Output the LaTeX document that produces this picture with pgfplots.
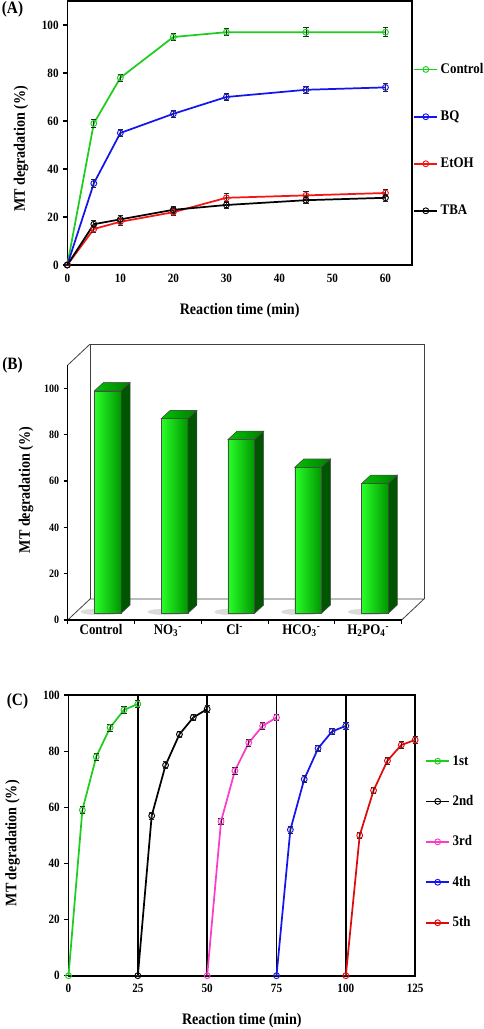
\documentclass[border=0pt]{standalone}
\usepackage{pgfplots}
\pgfplotsset{compat=1.18}
\usepackage{pgfplotstable}
\usepackage{fontspec}
\setmainfont{Liberation Serif}[FakeStretch=0.88]

\definecolor{cgreen}{RGB}{30,205,30}
\definecolor{cblue}{RGB}{20,20,240}
\definecolor{cred}{RGB}{245,20,20}
\definecolor{cmag}{RGB}{250,60,200}
\definecolor{cred2}{RGB}{225,10,10}
\definecolor{barlight}{RGB}{40,255,40}
\definecolor{barmid}{RGB}{0,190,0}
\definecolor{bardark}{RGB}{0,150,0}
\definecolor{bartopl}{RGB}{0,195,0}
\definecolor{bartopd}{RGB}{0,125,0}
\definecolor{barside}{RGB}{0,85,0}

% ---------- Panel A data ----------
\pgfplotstableread{
x y e
0 0 0
5 59 1.5
10 78 1.5
20 95 1.5
30 97 1.5
45 97 1.8
60 97 1.8
}\tCtrl
\pgfplotstableread{
x y e
0 0 0
5 34 1.5
10 55 1.5
20 63 1.5
30 70 1.5
45 73 1.5
60 74 1.8
}\tBQ
\pgfplotstableread{
x y e
0 0 0
5 15 1.5
10 18 1.5
20 22 1.5
30 28 1.8
45 29 1.8
60 30 1.5
}\tEtOH
\pgfplotstableread{
x y e
0 0 0
5 17 1.5
10 19 1.5
20 23 1.5
30 25 1.5
45 27 1.5
60 28 1.5
}\tTBA
% ---------- Panel B data ----------
\pgfplotstableread{
x y
0 96
1 84
2 75
3 63
4 56
}\tBars
% ---------- Panel C data ----------
\pgfplotstableread{
x y e
0 0 0
5 59 1.2
10 78 1.2
15 88.4 1.2
20 94.7 1.2
25 96.8 1.2
}\tCa
\pgfplotstableread{
x y e
25 0 0
30 57 1.2
35 75 1.2
40 86 1.2
45 92 1.2
50 95 1.2
}\tCb
\pgfplotstableread{
x y e
50 0 0
55 55 1.2
60 73 1.2
65 83 1.2
70 89 1.2
75 92 1.2
}\tCc
\pgfplotstableread{
x y e
75 0 0
80 52 1.2
85 70 1.2
90 81 1.2
95 87 1.2
100 89 1.2
}\tCd
\pgfplotstableread{
x y e
100 0 0
105 50 1.2
110 66 1.2
115 76.6 1.2
120 82.2 1.2
125 84 1.2
}\tCe

\pgfplotsset{
  common/.style={scale only axis, clip=false,
    /pgf/number format/assume math mode=true,
    tick label style={font=\bfseries\fontsize{9.5}{10}\selectfont},
    label style={font=\bfseries\fontsize{12}{13}\selectfont},
    tickpos=left, tick align=outside, major tick length=3pt,
    tick style={black, line width=0.8pt},
    legend cell align=left},
  ser/.style={color=#1, line width=1.3pt, mark=o, mark size=2.2pt,
    mark options={line width=0.7pt, solid},
    error bars/y dir=both, error bars/y explicit,
    error bars/error bar style={line width=0.6pt, black!85},
    error bars/error mark options={rotate=90, mark size=2pt, line width=0.6pt, black!85}},
}

\begin{document}
\begin{tikzpicture}
\useasboundingbox (0,0) rectangle (363pt,771.75pt);

% ================= Panel A =================
\begin{axis}[common, at={(50.475pt,573pt)}, anchor=south west,
  width=258.5pt, height=198pt,
  xmin=0, xmax=65, ymin=0, ymax=110,
  xtick={0,10,...,60}, ytick={0,20,...,100},
  every major x tick/.append style={draw=none},
  axis line style={line width=1.1pt},
  xlabel={Reaction time (min)}, ylabel={MT degradation (\%)},
  xlabel style={at={(axis description cs:0.5,-0.173)}, anchor=center},
  ylabel style={at={(axis description cs:-0.134,0.44)}, anchor=center},
  legend style={at={(1.0,0.785)}, anchor=north west, draw=none, fill=none,
    font=\bfseries\fontsize{11}{12}\selectfont, row sep=22.5pt, inner xsep=1pt},
]
\addplot[ser=cgreen] table[x=x,y=y,y error=e]{\tCtrl};
\addplot[ser=cblue] table[x=x,y=y,y error=e]{\tBQ};
\addplot[ser=cred] table[x=x,y=y,y error=e]{\tEtOH};
\addplot[ser=black] table[x=x,y=y,y error=e]{\tTBA};
\legend{Control,BQ,EtOH,TBA}
\end{axis}

% ================= Panel B (frame) =================
\begin{axis}[common, at={(50.775pt,306.75pt)}, anchor=south west,
  width=267.2pt, height=206.9pt,
  xmin=-0.5, xmax=4.834, ymin=0, ymax=119.06,
  axis line style={draw=none},
  ytick={0,20,...,100},
  yticklabel style={font=\bfseries\fontsize{8.5}{9}\selectfont},
  xtick={-0.5,0.5,...,4.5}, xticklabels={},
  extra x ticks={0,1,2,3,4},
  extra x tick labels={Control, NO\textsubscript{3}\textsuperscript{-}, Cl\textsuperscript{-}, HCO\textsubscript{3}\textsuperscript{-}, H\textsubscript{2}PO\textsubscript{4}\textsuperscript{-}},
  extra x tick style={major tick length=0pt, tick label style={font=\bfseries\fontsize{11}{12}\selectfont}},
  ylabel={MT degradation (\%)},
  ylabel style={at={(axis description cs:-0.117,0.471)}, anchor=center},
]
\draw[black!75, line width=0.6pt] (axis cs:-0.5,0) -- (axis cs:-0.166,9.06) -- (axis cs:4.834,9.06) -- (axis cs:4.5,0);
\draw[black!75, line width=0.6pt] (axis cs:-0.166,9.06) -- (axis cs:-0.166,119.06) -- (axis cs:4.834,119.06) -- (axis cs:4.834,9.06);
\draw[black!75, line width=0.6pt] (axis cs:-0.5,110) -- (axis cs:-0.166,119.06);
\draw[black, line width=1pt] (axis cs:-0.5,110) -- (axis cs:-0.5,0) -- (axis cs:4.5,0);
\end{axis}

% ================= Panel B (bars) =================
\begin{axis}[at={(50.775pt,306.75pt)}, anchor=south west, scale only axis,
  width=267.2pt, height=206.9pt,
  xmin=-0.6, xmax=4.734, ymin=-2.9, ymax=116.16,
  hide axis, clip=false]
% soft shadows under the bars
\addplot[only marks, mark=*, mark size=0pt,
  scatter, scatter/@pre marker code/.code={%
    \fill[black!14] (axis direction cs:-0.1,0.6) ellipse [x radius=15pt, y radius=2.2pt];},
  scatter/@post marker code/.code={}]
  table[x=x,y expr=0]{\tBars};
\addplot[ybar, bar width=20pt, draw=black!70, line width=0.4pt,
  fill=barmid] table[x=x,y=y]{\tBars};
\addplot[scatter, only marks, mark=*, mark size=0pt,
  visualization depends on={rawy \as \barv},
  scatter/@pre marker code/.code={%
    \pgfmathsetmacro\vn{-\barv}%
    \pgfmathsetmacro\vb{3.58-\barv}%
    \filldraw[draw=black!70, line width=0.4pt, left color=barlight, right color=bardark]
      (axis direction cs:-0.2,0) -- (axis direction cs:0.2,0) -- (axis direction cs:0.2,\vn) -- (axis direction cs:-0.2,\vn) -- cycle;
    \filldraw[draw=black!70, line width=0.4pt, left color=bartopl, right color=bartopd]
      (axis direction cs:-0.2,0) -- (axis direction cs:0.2,0) -- (axis direction cs:0.335,3.58) -- (axis direction cs:-0.065,3.58) -- cycle;
    \filldraw[draw=black!70, line width=0.4pt, fill=barside]
      (axis direction cs:0.2,0) -- (axis direction cs:0.335,3.58) -- (axis direction cs:0.335,\vb) -- (axis direction cs:0.2,\vn) -- cycle;
  },
  scatter/@post marker code/.code={}]
  table[x=x,y=y]{\tBars};
\end{axis}

% ================= Panel C =================
\begin{axis}[common, at={(51.375pt,39.975pt)}, anchor=south west,
  width=260pt, height=210.5pt,
  xmin=0, xmax=125, ymin=0, ymax=100,
  xtick={0,25,...,125}, ytick={0,20,...,100},
  every major x tick/.append style={draw=none},
  axis line style={line width=1.4pt},
  xlabel={Reaction time (min)}, ylabel={MT degradation (\%)},
  xlabel style={at={(axis description cs:0.5,-0.161)}, anchor=center},
  ylabel style={at={(axis description cs:-0.161,0.472)}, anchor=center},
  legend style={at={(1.025,0.805)}, anchor=north west, draw=none, fill=none,
    font=\bfseries\fontsize{11}{12}\selectfont, row sep=17.2pt, inner xsep=1pt},
]
\draw[line width=1.3pt] (axis cs:25,0) -- (axis cs:25,100);
\draw[line width=1.3pt] (axis cs:50,0) -- (axis cs:50,100);
\draw[line width=1.3pt] (axis cs:75,0) -- (axis cs:75,100);
\draw[line width=1.3pt] (axis cs:100,0) -- (axis cs:100,100);
\addplot[ser=cgreen] table[x=x,y=y,y error=e]{\tCa};
\addplot[ser=black] table[x=x,y=y,y error=e]{\tCb};
\addplot[ser=cmag] table[x=x,y=y,y error=e]{\tCc};
\addplot[ser=cblue] table[x=x,y=y,y error=e]{\tCd};
\addplot[ser=cred2] table[x=x,y=y,y error=e]{\tCe};
\legend{1st,2nd,3rd,4th,5th}
\end{axis}

\node[font=\bfseries\fontsize{13}{14}\selectfont, inner sep=0pt] at (9.375pt,765pt) {(A)};
\node[font=\bfseries\fontsize{13}{14}\selectfont, inner sep=0pt] at (9.375pt,498pt) {(B)};
\node[font=\bfseries\fontsize{13}{14}\selectfont, inner sep=0pt] at (13.125pt,246pt) {(C)};
\end{tikzpicture}
\end{document}
